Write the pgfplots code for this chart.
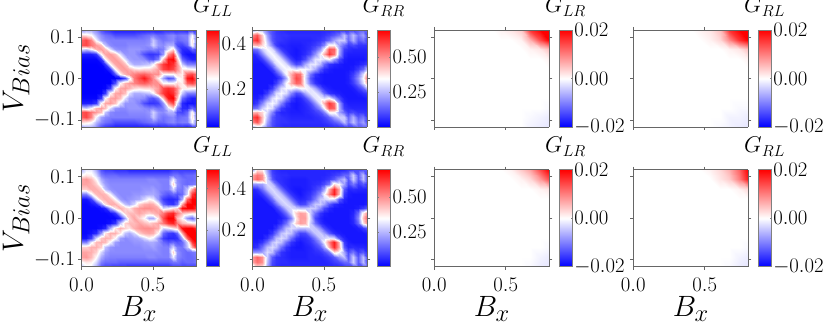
\documentclass[border=0pt]{standalone}
\usepackage{pgfplots}
\usepackage{pgfplotstable}
\pgfplotsset{compat=1.18}

\pgfplotsset{
  colormap={bwr}{rgb=(0,0,1) rgb=(1,1,1) rgb=(1,0,0)},
  colormap name=bwr,
  tick label style={font=\huge},
  heat/.style={
    scale only axis, width=115pt, height=97pt,
    xmin=0, xmax=0.805, ymin=-0.117, ymax=0.117,
    view={0}{90}, xtick={0,0.5}, ytick={-0.1,0,0.1},
    tick align=outside, major tick length=3pt,
    axis line style={black!60, line width=0.7pt},
    tick style={black!60, line width=0.6pt},
    xticklabels={$0.0$,$0.5$}, yticklabels={$-0.1$,$0.0$,$0.1$},
    xticklabel style={yshift=-5pt},
    xlabel style={at={(axis description cs:0.5,-0.515)},anchor=base,font=\Huge,scale=1.18},
    ylabel style={at={(axis description cs:-0.51,0.5)},anchor=base,font=\Huge,scale=1.18},
  },
  notx/.style={xticklabels={}},
  noty/.style={yticklabels={}},
  cb/.style n args={3}{
    colorbar,
    colorbar style={
      at={(1.087,1)}, anchor=north west, width=12.5pt,
      ytick={#2}, yticklabels={#3}, scaled y ticks=false,
      title={$#1$},
      title style={at={(0.5,1)},anchor=base,yshift=11pt,font=\huge,scale=1.1},
      major tick length=1pt,
      axis line style={black!50, line width=0.6pt},
      tick style={black!50, line width=0.4pt},
      yticklabel style={xshift=-1pt},
    },
  },
}

% half maps: 25 columns, rows from the top edge down to V=0, values in 0.01
\newcommand{\halfmap}[1]{%
  \addplot3[surf,shader=interp,mesh/cols=25] table[x index=0,y index=0,z index=0,
    x expr={(\coordindex-25*floor((\coordindex+0.5)/25))*0.805/24},
    y expr={0.117*(1-floor((\coordindex+0.5)/25)/10)},
    z expr={\thisrowno{0}/100}]{#1};
  \addplot3[surf,shader=interp,mesh/cols=25] table[x index=0,y index=0,z index=0,
    x expr={(\coordindex-25*floor((\coordindex+0.5)/25))*0.805/24},
    y expr={-0.117*(1-floor((\coordindex+0.5)/25)/10)},
    z expr={\thisrowno{0}/100}]{#1};
}
% full maps: 13 columns, 11 rows from the top edge down, values in 0.001
\newcommand{\fullmap}[1]{%
  \addplot3[surf,shader=interp,mesh/cols=13] table[x index=0,y index=0,z index=0,
    x expr={(\coordindex-13*floor((\coordindex+0.5)/13))*0.805/12},
    y expr={0.117*(1-2*floor((\coordindex+0.5)/13)/10)},
    z expr={\thisrowno{0}/1000}]{#1};
}

\pgfplotstableread[row sep=\\,header=false]{
16\\18\\18\\15\\10\\8\\7\\6\\6\\6\\6\\6\\6\\6\\6\\6\\6\\7\\7\\7\\7\\7\\6\\8\\8\\
28\\27\\25\\19\\15\\13\\12\\10\\10\\10\\10\\10\\11\\12\\13\\14\\12\\12\\14\\15\\13\\14\\14\\24\\14\\
38\\40\\35\\24\\17\\15\\14\\14\\14\\14\\14\\14\\14\\14\\15\\20\\15\\13\\14\\15\\12\\13\\14\\27\\14\\
39\\40\\36\\33\\30\\20\\15\\14\\14\\14\\15\\15\\15\\15\\16\\21\\16\\15\\18\\18\\10\\9\\12\\26\\12\\
22\\20\\24\\31\\33\\30\\22\\16\\15\\15\\16\\16\\16\\15\\14\\15\\13\\14\\22\\28\\14\\7\\7\\12\\9\\
6\\6\\6\\8\\25\\32\\33\\30\\22\\16\\16\\16\\14\\10\\8\\8\\9\\16\\34\\40\\22\\7\\5\\5\\6\\
4\\4\\4\\4\\8\\25\\32\\33\\30\\22\\17\\16\\16\\15\\11\\10\\14\\30\\44\\46\\30\\12\\8\\6\\6\\
3\\3\\3\\3\\4\\8\\25\\32\\33\\30\\22\\18\\18\\19\\20\\24\\34\\41\\44\\42\\34\\20\\14\\14\\14\\
3\\3\\3\\3\\3\\4\\8\\25\\32\\33\\31\\28\\27\\28\\28\\30\\33\\40\\42\\40\\34\\26\\26\\25\\24\\
3\\3\\3\\3\\3\\3\\3\\10\\25\\31\\33\\35\\37\\38\\36\\34\\34\\25\\25\\25\\28\\26\\38\\40\\36\\
3\\3\\3\\3\\3\\3\\3\\3\\5\\10\\22\\36\\40\\44\\39\\34\\26\\17\\10\\12\\24\\26\\44\\46\\36\\
}\tLLa

\pgfplotstableread[row sep=\\,header=false]{
22\\28\\26\\16\\10\\7\\6\\5\\5\\5\\5\\5\\5\\5\\5\\5\\5\\6\\6\\7\\8\\9\\12\\14\\14\\
52\\58\\42\\22\\11\\8\\7\\7\\6\\6\\6\\6\\6\\6\\6\\7\\9\\12\\16\\26\\16\\26\\16\\22\\10\\
60\\64\\44\\26\\12\\8\\7\\6\\5\\5\\5\\5\\5\\6\\7\\9\\14\\22\\28\\28\\14\\24\\12\\16\\8\\
44\\46\\40\\30\\18\\8\\5\\5\\4\\4\\4\\5\\6\\8\\11\\18\\36\\36\\22\\14\\8\\10\\7\\7\\6\\
14\\16\\28\\34\\30\\18\\8\\5\\4\\3\\4\\5\\7\\12\\20\\34\\58\\56\\24\\8\\6\\5\\5\\5\\5\\
5\\8\\18\\30\\34\\30\\18\\8\\4\\3\\4\\6\\10\\20\\32\\46\\62\\54\\22\\6\\4\\4\\4\\4\\4\\
4\\4\\8\\18\\30\\34\\30\\18\\8\\4\\5\\10\\20\\31\\33\\30\\34\\22\\10\\4\\3\\3\\3\\3\\4\\
3\\3\\3\\8\\18\\30\\34\\30\\18\\10\\12\\23\\31\\32\\25\\14\\7\\5\\4\\3\\3\\3\\4\\6\\8\\
3\\3\\3\\3\\8\\18\\30\\34\\34\\30\\34\\34\\31\\23\\12\\6\\4\\3\\3\\3\\3\\4\\8\\14\\26\\
3\\3\\3\\3\\3\\8\\18\\34\\46\\56\\54\\32\\16\\7\\4\\3\\3\\3\\3\\3\\4\\8\\16\\30\\46\\
3\\3\\3\\3\\3\\4\\10\\24\\46\\60\\56\\30\\12\\5\\4\\3\\3\\3\\3\\3\\4\\10\\20\\34\\54\\
}\tRRa

\pgfplotstableread[row sep=\\,header=false]{
20\\24\\24\\18\\10\\8\\8\\7\\7\\7\\6\\6\\6\\6\\6\\6\\6\\6\\6\\8\\8\\8\\8\\8\\8\\
26\\28\\27\\22\\14\\12\\12\\12\\11\\11\\11\\11\\11\\11\\11\\11\\11\\11\\11\\13\\13\\11\\12\\12\\13\\
34\\35\\32\\26\\18\\15\\14\\14\\14\\14\\14\\14\\14\\14\\15\\15\\14\\14\\14\\24\\15\\13\\12\\12\\13\\
34\\34\\33\\30\\22\\17\\15\\15\\15\\15\\15\\15\\15\\15\\15\\15\\15\\14\\14\\30\\16\\13\\12\\13\\14\\
30\\30\\33\\33\\30\\20\\16\\15\\15\\15\\15\\15\\15\\16\\16\\17\\15\\14\\14\\22\\14\\13\\20\\34\\44\\
14\\14\\24\\32\\33\\32\\25\\17\\15\\15\\15\\16\\16\\17\\18\\18\\16\\12\\10\\12\\10\\12\\22\\44\\50\\
4\\4\\8\\22\\31\\33\\32\\26\\17\\15\\16\\17\\18\\22\\26\\24\\16\\8\\6\\6\\7\\18\\40\\50\\50\\
3\\3\\4\\6\\16\\28\\33\\33\\28\\20\\18\\22\\30\\33\\34\\33\\26\\12\\8\\7\\12\\34\\50\\50\\50\\
3\\3\\3\\3\\4\\6\\18\\28\\33\\30\\28\\33\\35\\36\\36\\35\\33\\22\\24\\28\\30\\48\\50\\50\\45\\
3\\3\\3\\3\\3\\3\\4\\7\\20\\30\\32\\32\\34\\32\\30\\32\\34\\38\\44\\46\\38\\32\\30\\28\\28\\
3\\3\\3\\3\\3\\3\\3\\3\\6\\18\\30\\34\\30\\26\\18\\18\\28\\42\\50\\50\\32\\26\\16\\12\\20\\
}\tLLb

\pgfplotstableread[row sep=\\,header=false]{
26\\40\\38\\22\\8\\6\\5\\5\\5\\5\\5\\5\\5\\5\\5\\5\\5\\5\\5\\6\\8\\10\\10\\12\\12\\
48\\54\\50\\26\\10\\7\\6\\6\\5\\5\\5\\5\\5\\5\\5\\5\\6\\8\\10\\14\\14\\28\\12\\26\\10\\
50\\56\\50\\28\\12\\7\\6\\5\\4\\4\\4\\4\\5\\5\\5\\6\\8\\12\\20\\26\\12\\28\\12\\26\\10\\
20\\20\\22\\30\\26\\15\\7\\5\\4\\4\\4\\4\\5\\6\\7\\10\\16\\40\\34\\22\\10\\16\\8\\12\\6\\
5\\7\\15\\26\\30\\26\\15\\7\\4\\3\\3\\4\\5\\8\\12\\22\\46\\64\\46\\12\\5\\6\\5\\5\\4\\
4\\4\\7\\15\\26\\30\\26\\15\\7\\4\\3\\5\\7\\12\\20\\34\\52\\66\\44\\8\\4\\3\\3\\3\\3\\
3\\3\\3\\7\\15\\26\\30\\26\\15\\7\\5\\6\\9\\17\\27\\29\\32\\30\\12\\5\\3\\3\\3\\3\\3\\
3\\3\\3\\3\\7\\15\\26\\30\\26\\15\\9\\10\\19\\27\\28\\22\\12\\6\\4\\3\\3\\3\\3\\3\\4\\
3\\3\\3\\3\\3\\7\\15\\26\\30\\28\\26\\26\\28\\27\\19\\10\\5\\3\\3\\3\\3\\3\\4\\8\\12\\
3\\3\\3\\3\\3\\3\\7\\15\\28\\42\\48\\46\\28\\15\\7\\4\\3\\3\\3\\3\\3\\5\\14\\38\\50\\
3\\3\\3\\3\\3\\3\\4\\8\\18\\38\\48\\48\\30\\10\\5\\3\\3\\3\\3\\3\\3\\6\\18\\44\\56\\
}\tRRb

\pgfplotstableread[row sep=\\,header=false]{
0\\0\\0\\0\\0\\0\\0\\1\\2\\4\\16\\20\\20\\
0\\0\\0\\0\\0\\0\\0\\0\\0\\1\\6\\14\\20\\
0\\0\\0\\0\\0\\0\\0\\0\\0\\0\\1\\2\\5\\
0\\0\\0\\0\\0\\0\\0\\0\\0\\0\\0\\0\\1\\
0\\0\\0\\0\\0\\0\\0\\0\\0\\0\\0\\0\\0\\
0\\0\\0\\0\\0\\0\\0\\0\\0\\0\\0\\0\\0\\
0\\0\\0\\0\\0\\0\\0\\0\\0\\0\\0\\0\\0\\
0\\0\\0\\0\\0\\0\\0\\0\\0\\0\\0\\0\\0\\
0\\0\\0\\0\\0\\0\\0\\0\\0\\0\\0\\0\\-0.5\\
0\\0\\0\\0\\0\\0\\0\\0\\0\\0\\-0.5\\-1\\-1.5\\
0\\0\\0\\0\\0\\0\\0\\0\\0\\0\\-1\\-1.5\\-2\\
}\tLRa

\pgfplotstableread[row sep=\\,header=false]{
0\\0\\0\\0\\0\\0\\0\\1\\2\\5\\16\\20\\20\\
0\\0\\0\\0\\0\\0\\0\\0\\1\\3\\9\\16\\20\\
0\\0\\0\\0\\0\\0\\0\\0\\0\\0\\1\\2\\5\\
0\\0\\0\\0\\0\\0\\0\\0\\0\\0\\0\\0\\1\\
0\\0\\0\\0\\0\\0\\0\\0\\0\\0\\0\\0\\0\\
0\\0\\0\\0\\0\\0\\0\\0\\0\\0\\0\\0\\0\\
0\\0\\0\\0\\0\\0\\0\\0\\0\\0\\0\\0\\0\\
0\\0\\0\\0\\0\\0\\0\\0\\0\\0\\0\\0\\0\\
0\\0\\0\\0\\0\\0\\0\\0\\0\\0\\0\\-0.5\\-0.5\\
0\\0\\0\\0\\0\\0\\0\\0\\0\\0\\-1\\-1\\-1.5\\
0\\0\\0\\0\\0\\0\\0\\0\\0\\-0.5\\-1\\-1.5\\-2\\
}\tRLa

\pgfplotstableread[row sep=\\,header=false]{
0\\0\\0\\0\\0\\0\\0\\0\\1\\4\\7\\14\\20\\
0\\0\\0\\0\\0\\0\\0\\0\\0\\1\\3\\8\\14\\
0\\0\\0\\0\\0\\0\\0\\0\\0\\0\\0\\1\\2\\
0\\0\\0\\0\\0\\0\\0\\0\\0\\0\\0\\0\\0\\
0\\0\\0\\0\\0\\0\\0\\0\\0\\0\\0\\0\\0\\
0\\0\\0\\0\\0\\0\\0\\0\\0\\0\\0\\0\\0\\
0\\0\\0\\0\\0\\0\\0\\0\\0\\0\\0\\0\\0\\
0\\0\\0\\0\\0\\0\\0\\0\\0\\0\\0\\0\\0\\
0\\0\\0\\0\\0\\0\\0\\0\\0\\0\\0\\0\\-0.5\\
0\\0\\0\\0\\0\\0\\0\\0\\0\\0\\0\\-1\\-1.5\\
0\\0\\0\\0\\0\\0\\0\\0\\0\\0\\-0.5\\-1.5\\-2\\
}\tLRb

\pgfplotstableread[row sep=\\,header=false]{
0\\0\\0\\0\\0\\0\\0\\0\\1\\3\\6\\12\\20\\
0\\0\\0\\0\\0\\0\\0\\0\\0\\2\\4\\10\\18\\
0\\0\\0\\0\\0\\0\\0\\0\\0\\0\\0\\1\\3\\
0\\0\\0\\0\\0\\0\\0\\0\\0\\0\\0\\0\\0\\
0\\0\\0\\0\\0\\0\\0\\0\\0\\0\\0\\0\\0\\
0\\0\\0\\0\\0\\0\\0\\0\\0\\0\\0\\0\\0\\
0\\0\\0\\0\\0\\0\\0\\0\\0\\0\\0\\0\\0\\
0\\0\\0\\0\\0\\0\\0\\0\\0\\0\\0\\0\\0\\
0\\0\\0\\0\\0\\0\\0\\0\\0\\0\\0\\0\\-0.5\\
0\\0\\0\\0\\0\\0\\0\\0\\0\\0\\0\\-1\\-1.5\\
0\\0\\0\\0\\0\\0\\0\\0\\0\\0\\-0.5\\-1.5\\-2\\
}\tRLb

\begin{document}
\begin{tikzpicture}
  \path[use as bounding box] (0pt,0pt) rectangle (831pt,331pt);

  % top row
  \begin{axis}[heat, notx, at={(81.5pt,204pt)}, ylabel={$V_{Bias}$},
      point meta min=0.036, point meta max=0.458, cb={G_{LL}}{0.2,0.4}{$0.2$,$0.4$}]
    \halfmap{\tLLa}
  \end{axis}
  \begin{axis}[heat, notx, noty, at={(252.5pt,204pt)},
      point meta min=0, point meta max=0.695, cb={G_{RR}}{0.25,0.5}{$0.25$,$0.50$}]
    \halfmap{\tRRa}
  \end{axis}
  \begin{axis}[heat, notx, noty, at={(434.3pt,204pt)},
      point meta min=-0.02, point meta max=0.02, cb={G_{LR}}{-0.02,0,0.02}{$-0.02$,$0.00$,$0.02$}]
    \fullmap{\tLRa}
  \end{axis}
  \begin{axis}[heat, notx, noty, at={(633.3pt,204pt)},
      point meta min=-0.02, point meta max=0.02, cb={G_{RL}}{-0.02,0,0.02}{$-0.02$,$0.00$,$0.02$}]
    \fullmap{\tRLa}
  \end{axis}

  % bottom row
  \begin{axis}[heat, at={(81.5pt,64.3pt)}, xlabel={$B_x$}, ylabel={$V_{Bias}$},
      point meta min=0.024, point meta max=0.49, cb={G_{LL}}{0.2,0.4}{$0.2$,$0.4$}]
    \halfmap{\tLLb}
  \end{axis}
  \begin{axis}[heat, noty, at={(252.5pt,64.3pt)}, xlabel={$B_x$},
      point meta min=0, point meta max=0.695, cb={G_{RR}}{0.25,0.5}{$0.25$,$0.50$}]
    \halfmap{\tRRb}
  \end{axis}
  \begin{axis}[heat, noty, at={(434.3pt,64.3pt)}, xlabel={$B_x$},
      point meta min=-0.02, point meta max=0.02, cb={G_{LR}}{-0.02,0,0.02}{$-0.02$,$0.00$,$0.02$}]
    \fullmap{\tLRb}
  \end{axis}
  \begin{axis}[heat, noty, at={(633.3pt,64.3pt)}, xlabel={$B_x$},
      point meta min=-0.02, point meta max=0.02, cb={G_{RL}}{-0.02,0,0.02}{$-0.02$,$0.00$,$0.02$}]
    \fullmap{\tRLb}
  \end{axis}
\end{tikzpicture}
\end{document}
